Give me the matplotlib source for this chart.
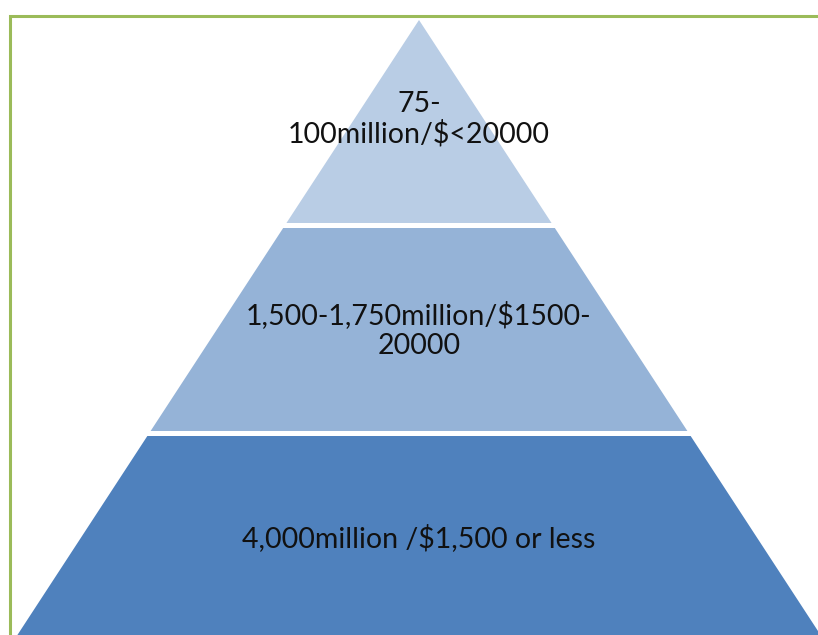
"""
Three-tier pyramid: population / income bands
"""

import matplotlib
matplotlib.use("Agg")
import matplotlib.pyplot as plt

# tier labels, top to bottom
tier_labels = [
    "75-\n100million/$<20000",
    "1,500-1,750million/$1500-\n20000",
    "4,000million /$1,500 or less",
]
tier_colors = ["#B9CDE5", "#95B3D7", "#4F81BD"]
label_y = [119, 330, 538]   # vertical centre of each label (px)

# geometry in pixel space (818 x 635 canvas, y grows downward)
W, H = 818, 635
apex_x, apex_y = 419, 20
slope = 0.653          # half-width growth per pixel of depth
tier_h = 203
gap = 5
frame_color = "#9BBB59"

fig = plt.figure(figsize=(W / 100, H / 100), dpi=100, facecolor="white")
ax = fig.add_axes([0, 0, 1, 1])
ax.set_xlim(0, W)
ax.set_ylim(H, 0)
ax.axis("off")

plt.rcParams["font.family"] = ["Lato", "DejaVu Sans"]

# green frame (only left and top edges visible)
ax.plot([9.5, 9.5, W + 5], [H + 5, 15.5, 15.5], color=frame_color,
        linewidth=2.2, solid_joinstyle="miter", zorder=1)

for i, (label, color) in enumerate(zip(tier_labels, tier_colors)):
    top = apex_y + i * (tier_h + gap)
    bot = top + tier_h
    ht = (top - apex_y) * slope
    hb = (bot - apex_y) * slope
    xs = [apex_x - ht, apex_x + ht, apex_x + hb, apex_x - hb]
    ys = [top, top, bot, bot]
    ax.fill(xs, ys, color=color, linewidth=0, zorder=2)

    ax.text(apex_x, label_y[i], label, ha="center", va="center",
            fontsize=20.5, color="#111111", linespacing=1.15, zorder=3)

fig.savefig("out.png", dpi=100, facecolor="white")
